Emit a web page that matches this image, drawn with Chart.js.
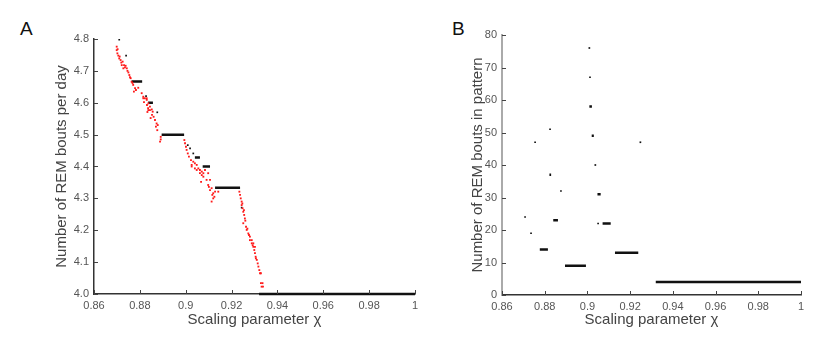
<!DOCTYPE html>
<html>
<head>
<meta charset="utf-8">
<script src="https://cdn.jsdelivr.net/npm/chart.js@4"></script>
<style>
  body { margin: 0; background: #fff; width: 831px; height: 343px; position: relative; overflow: hidden; }
  canvas { position: absolute; top: 0; }
  .tag { position: absolute; font: 19px "Liberation Sans", Arial, sans-serif; color: #111; }
</style>
</head>
<body>
<div class="tag" style="left:20px;top:18px">A</div>
<div class="tag" style="left:452px;top:18px">B</div>
<canvas id="chartA" width="430" height="343" style="left:0"></canvas>
<canvas id="chartB" width="401" height="343" style="left:430px"></canvas>
<script>
// panel A: bouts per day vs scaling parameter
const redDots = [
  [0.8699, 4.776], [0.8699, 4.765], [0.8702, 4.755], [0.8706, 4.748], [0.8710, 4.739],
  [0.8716, 4.734], [0.8725, 4.729], [0.8721, 4.718], [0.8731, 4.718], [0.8735, 4.711],
  [0.8728, 4.708], [0.8743, 4.708], [0.8750, 4.695], [0.8754, 4.687], [0.8760, 4.677],
  [0.8764, 4.666], [0.8771, 4.656], [0.8779, 4.646], [0.8774, 4.635], [0.8793, 4.647],
  [0.8808, 4.630], [0.8815, 4.619], [0.8822, 4.614], [0.8830, 4.609], [0.8818, 4.602],
  [0.8831, 4.593], [0.8836, 4.583], [0.8844, 4.577], [0.8833, 4.571], [0.8853, 4.562],
  [0.8847, 4.552], [0.8866, 4.546], [0.8873, 4.535], [0.8870, 4.525], [0.8876, 4.514],
  [0.8891, 4.493], [0.8891, 4.485], [0.8888, 4.478], [0.8994, 4.483], [0.8997, 4.473],
  [0.9001, 4.462], [0.9004, 4.452], [0.9009, 4.441], [0.9014, 4.431], [0.9023, 4.420],
  [0.9026, 4.405], [0.9033, 4.415], [0.9040, 4.410], [0.9048, 4.405], [0.9055, 4.394],
  [0.9062, 4.389], [0.9070, 4.384], [0.9077, 4.379], [0.9070, 4.373], [0.9084, 4.389],
  [0.9098, 4.379], [0.9106, 4.358], [0.9067, 4.352], [0.9098, 4.342], [0.9106, 4.326],
  [0.9113, 4.332], [0.9120, 4.316], [0.9125, 4.305], [0.9120, 4.300], [0.9113, 4.290],
  [0.9128, 4.321], [0.9142, 4.321], [0.9234, 4.321], [0.9237, 4.311], [0.9240, 4.300],
  [0.9244, 4.290], [0.9244, 4.279], [0.9248, 4.269], [0.9251, 4.258], [0.9255, 4.248],
  [0.9258, 4.237], [0.9251, 4.222], [0.9263, 4.211], [0.9266, 4.201], [0.9273, 4.190],
  [0.9280, 4.180], [0.9280, 4.169], [0.9288, 4.169], [0.9288, 4.159], [0.9295, 4.159],
  [0.9295, 4.148], [0.9302, 4.148], [0.9299, 4.138], [0.9302, 4.128], [0.9305, 4.117],
  [0.9310, 4.107], [0.9314, 4.096], [0.9317, 4.086], [0.9324, 4.065], [0.9328, 4.065],
  [0.9328, 4.034], [0.9331, 4.023], [0.9337, 4.023],
  [0.8703, 4.768], [0.8712, 4.745], [0.8719, 4.726], [0.8738, 4.716], [0.8746, 4.700],
  [0.8757, 4.680], [0.8768, 4.662], [0.8783, 4.640], [0.8815, 4.614], [0.8830, 4.614],
  [0.8837, 4.598], [0.8844, 4.588], [0.8852, 4.579], [0.8837, 4.577], [0.8856, 4.572],
  [0.8860, 4.556], [0.8878, 4.530], [0.9026, 4.400], [0.9040, 4.394], [0.9048, 4.389],
  [0.9062, 4.379], [0.9077, 4.368], [0.9091, 4.358], [0.9101, 4.336], [0.9116, 4.311],
  [0.9247, 4.284], [0.9254, 4.263], [0.9260, 4.230], [0.9269, 4.205], [0.9276, 4.185],
  [0.9292, 4.153], [0.9306, 4.112], [0.9321, 4.075], [0.9335, 4.034]
];
const blackDotsA = [
  [0.8710, 4.798], [0.8740, 4.748], [0.8827, 4.621], [0.8876, 4.570], [0.9009, 4.467],
  [0.9019, 4.457], [0.9033, 4.441], [0.9244, 4.271]
];
// [x start, x end, y]
const blackSegsA = [
  [0.8764, 0.8810, 4.6667], [0.8836, 0.8857, 4.6], [0.8895, 0.8993, 4.5],
  [0.9040, 0.9062, 4.4286], [0.9074, 0.9106, 4.4], [0.9128, 0.9237, 4.3333],
  [0.9320, 1.0, 4.0]
];

// panel B: bouts in pattern
const blackDotsB = [
  [0.8708, 24], [0.8736, 19], [0.8755, 47], [0.8825, 51], [0.8876, 32],
  [0.9009, 76], [0.9012, 67], [0.9037, 40], [0.9050, 22], [0.9248, 47]
];
const blackSegsB = [
  [0.8777, 0.8815, 14], [0.8840, 0.8862, 23], [0.8822, 0.8830, 37], [0.8895, 0.8993, 9],
  [0.9009, 0.9021, 58], [0.9020, 0.9030, 49], [0.9047, 0.9062, 31], [0.9071, 0.9109, 22],
  [0.9129, 0.9238, 13], [0.9320, 1.0, 4]
];

const FONT = "'Liberation Sans', Arial, sans-serif";

const toPts = (arr) => arr.map((p) => ({ x: p[0], y: p[1] }));
const segPts = (arr) => {
  let out = [];
  arr.forEach((s) => {
    out.push({ x: s[0], y: s[2] }, { x: s[1], y: s[2] }, { x: s[1], y: null });
  });
  return out;
};

// ticks drawn inward, like the original
const innerTicks = {
  id: "innerTicks",
  afterDraw(chart) {
    const { ctx, chartArea, scales } = chart;
    ctx.save();
    ctx.strokeStyle = "#444";
    ctx.lineWidth = 1;
    scales.x.ticks.forEach((t) => {
      const px = Math.round(scales.x.getPixelForValue(t.value)) + 0.5;
      ctx.beginPath();
      ctx.moveTo(px, chartArea.bottom);
      ctx.lineTo(px, chartArea.bottom - 4);
      ctx.stroke();
    });
    scales.y.ticks.forEach((t) => {
      const py = Math.round(scales.y.getPixelForValue(t.value)) + 0.5;
      ctx.beginPath();
      ctx.moveTo(chartArea.left, py);
      ctx.lineTo(chartArea.left + 4, py);
      ctx.stroke();
    });
    ctx.restore();
  },
};

const makeChart = (el, cfg) => {
  return new Chart(el, {
    type: "scatter",
    data: {
      datasets: [
        ...(cfg.red ? [{
          data: toPts(cfg.red),
          pointStyle: "rect",
          pointRadius: 1.3,
          borderWidth: 0,
          backgroundColor: "#ff1a1a",
        }] : []),
        {
          data: toPts(cfg.dots),
          pointStyle: "rect",
          pointRadius: 1.2,
          borderWidth: 0,
          backgroundColor: "#111",
        },
        {
          data: segPts(cfg.segs),
          showLine: true,
          spanGaps: false,
          clip: 4,
          borderColor: "#111",
          borderWidth: 2.5,
          pointRadius: 0,
        },
      ],
    },
    options: {
      responsive: false,
      animation: false,
      layout: { padding: cfg.padding },
      plugins: { legend: { display: false }, tooltip: { enabled: false } },
      scales: {
        x: {
          type: "linear",
          min: 0.86,
          max: 1,
          afterFit: (s) => { s.height = cfg.xHeight; },
          ticks: {
            stepSize: 0.02,
            color: "#555",
            padding: 5,
            font: { family: FONT, size: 11 },
            maxRotation: 0,
            callback: (v) => String(+v.toFixed(2)),
          },
          grid: { display: true, drawOnChartArea: false, drawTicks: false },
          border: { color: "#333", width: 1.5 },
          title: {
            display: true,
            text: "Scaling parameter χ",
            color: "#444",
            font: { family: FONT, size: 15 },
            padding: { top: 0, bottom: 14 },
          },
        },
        y: {
          type: "linear",
          min: cfg.yMin,
          max: cfg.yMax,
          afterFit: (s) => { s.width = cfg.yWidth; },
          ticks: {
            stepSize: cfg.yStep,
            color: "#555",
            padding: 5,
            font: { family: FONT, size: 11 },
            callback: cfg.yFmt,
          },
          grid: { display: true, drawOnChartArea: false, drawTicks: false },
          border: { color: cfg.yAxisColor, width: cfg.yAxisWidth },
          title: {
            display: true,
            text: cfg.yTitle,
            color: "#444",
            font: { family: FONT, size: 15 },
            padding: { top: cfg.yTitlePad, bottom: 0 },
          },
        },
      },
    },
    plugins: [innerTicks],
  });
};

makeChart(document.getElementById("chartA"), {
  red: redDots,
  dots: blackDotsA,
  segs: blackSegsA,
  yMin: 4, yMax: 4.8, yStep: 0.1,
  yFmt: (v) => v.toFixed(1),
  yTitle: "Number of REM bouts per day",
  yWidth: 94, yTitlePad: 53,
  yAxisColor: "#333", yAxisWidth: 1.5,
  xHeight: 49,
  padding: { left: 0, right: 15, top: 39, bottom: 0 },
});

makeChart(document.getElementById("chartB"), {
  dots: blackDotsB,
  segs: blackSegsB,
  yMin: 0, yMax: 80, yStep: 10,
  yFmt: (v) => String(v),
  yTitle: "Number of REM bouts in pattern",
  yWidth: 72, yTitlePad: 39,
  yAxisColor: "#aaa", yAxisWidth: 2,
  xHeight: 48,
  padding: { left: 0, right: 30, top: 35, bottom: 0 },
});
</script>
</body>
</html>
